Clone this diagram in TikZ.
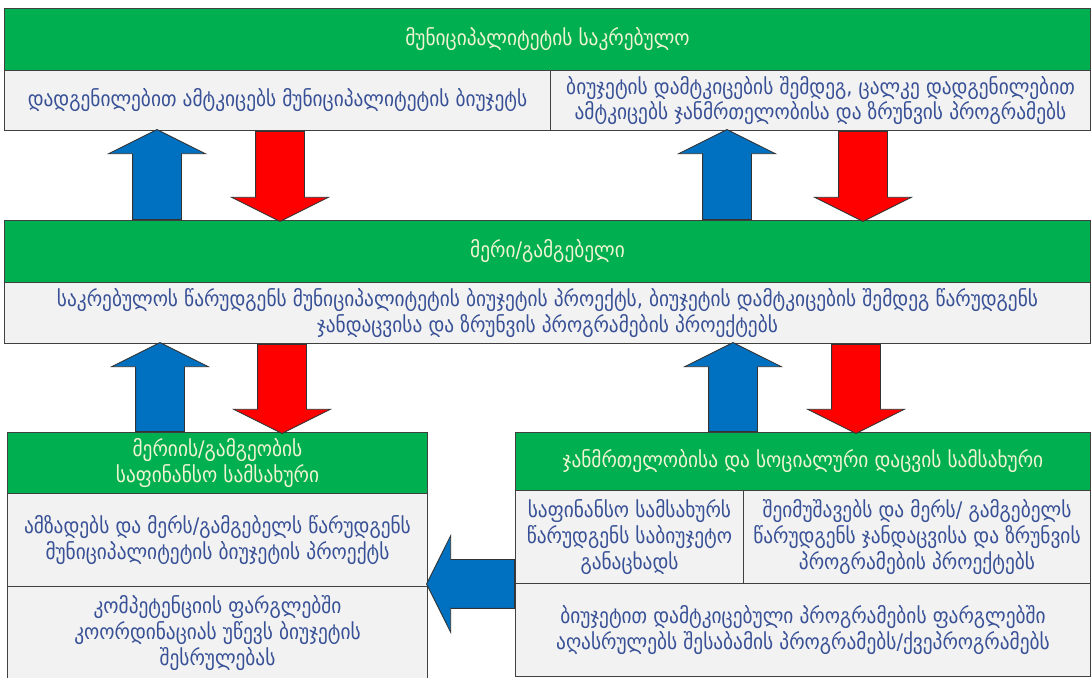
\documentclass[tikz,border=0pt]{standalone}
\usepackage{fontspec}
\setmainfont{DejaVu Sans Condensed}
\usetikzlibrary{shapes.arrows}
\newcommand{\pxu}{0.025cm}
\definecolor{boxgreen}{RGB}{0,176,80}
\definecolor{arrblue}{RGB}{0,112,192}
\definecolor{arrred}{RGB}{255,0,0}
\definecolor{boxgray}{RGB}{242,242,242}
\definecolor{bodytext}{RGB}{55,80,150}
\definecolor{headtext}{RGB}{240,244,210}
\begin{document}
\begin{tikzpicture}[x=0.025cm, y=-0.025cm,
    box/.style={draw=black!75, line width=0.7pt, anchor=north west, inner sep=0pt,
        align=center, font=\fontsize{15.3}{18.2}\selectfont},
    headbox/.style={box, fill=boxgreen, text=headtext},
    textbox/.style={box, fill=boxgray, text=bodytext},
    fatarrow/.style={single arrow, draw=black!80, line width=0.6pt, inner xsep=0pt,
        inner ysep=24*\pxu, single arrow head extend=24*\pxu,
        single arrow tip angle=127, anchor=tail},
    uparrow/.style={fatarrow, fill=arrblue, rotate=90},
    downarrow/.style={fatarrow, fill=arrred, rotate=-90}]
    \useasboundingbox (0,0) rectangle (1091,677);

    % council
    \node[headbox, minimum width=1086*\pxu, minimum height=62*\pxu] (council) at (4,8)
        {მუნიციპალიტეტის საკრებულო};
    \node[textbox, minimum width=546*\pxu, minimum height=60*\pxu] (councilL) at (4,70)
        {დადგენილებით ამტკიცებს მუნიციპალიტეტის ბიუჯეტს};
    \node[textbox, minimum width=540*\pxu, minimum height=60*\pxu] (councilR) at (550,70)
        {ბიუჯეტის დამტკიცების შემდეგ, ცალკე დადგენილებით\\
         ამტკიცებს ჯანმრთელობისა და ზრუნვის პროგრამებს};

    % mayor
    \node[headbox, minimum width=1086*\pxu, minimum height=62*\pxu] (mayor) at (4,220)
        {მერი/გამგებელი};
    \node[textbox, minimum width=1086*\pxu, minimum height=61*\pxu] (mayorT) at (4,282)
        {საკრებულოს წარუდგენს მუნიციპალიტეტის ბიუჯეტის პროექტს, ბიუჯეტის დამტკიცების შემდეგ წარუდგენს\\
         ჯანდაცვისა და ზრუნვის პროგრამების პროექტებს};

    % finance service
    \node[headbox, minimum width=420*\pxu, minimum height=61*\pxu] (fin) at (7,432)
        {მერიის/გამგეობის\\საფინანსო სამსახური};
    \node[textbox, minimum width=420*\pxu, minimum height=93*\pxu] (finA) at (7,493)
        {ამზადებს და მერს/გამგებელს წარუდგენს\\
         მუნიციპალიტეტის ბიუჯეტის პროექტს};
    \node[textbox, minimum width=420*\pxu, minimum height=93*\pxu] (finB) at (7,586)
        {კომპეტენციის ფარგლებში\\
         კოორდინაციას უწევს ბიუჯეტის\\
         შესრულებას};

    % health service
    \node[headbox, minimum width=575*\pxu, minimum height=58*\pxu] (health) at (515,432)
        {ჯანმრთელობისა და სოციალური დაცვის სამსახური};
    \node[textbox, minimum width=228*\pxu, minimum height=93*\pxu] (healthA) at (515,490)
        {საფინანსო სამსახურს\\
         წარუდგენს საბიუჯეტო\\
         განაცხადს};
    \node[textbox, minimum width=347*\pxu, minimum height=93*\pxu] (healthB) at (743,490)
        {შეიმუშავებს და მერს/ გამგებელს\\
         წარუდგენს ჯანდაცვისა და ზრუნვის\\
         პროგრამების პროექტებს};
    \node[textbox, minimum width=575*\pxu, minimum height=93*\pxu] (healthC) at (515,583)
        {ბიუჯეტით დამტკიცებული პროგრამების ფარგლებში\\
         აღასრულებს შესაბამის პროგრამებს/ქვეპროგრამებს};

    % arrow columns
    \coordinate (colA) at (157,0);
    \coordinate (colB) at (280,0);
    \coordinate (colC) at (727,0);
    \coordinate (colD) at (863,0);
    \coordinate (colE) at (160,0);
    \coordinate (colF) at (282,0);
    \coordinate (colG) at (733,0);
    \coordinate (colH) at (856,0);

    % council <-> mayor
    \node[uparrow, minimum height=90*\pxu] (upA) at (colA |- mayor.north) {};
    \node[downarrow, minimum height=90*\pxu] (downB) at (colB |- councilL.south) {};
    \node[uparrow, minimum height=90*\pxu] (upC) at (colC |- mayor.north) {};
    \node[downarrow, minimum height=90*\pxu] (downD) at (colD |- councilR.south) {};

    % mayor <-> services
    \node[uparrow, minimum height=89*\pxu] (upE) at (colE |- fin.north) {};
    \node[downarrow, minimum height=89*\pxu] (downF) at (colF |- mayorT.south) {};
    \node[uparrow, minimum height=89*\pxu] (upG) at (colG |- health.north) {};
    \node[downarrow, minimum height=89*\pxu] (downH) at (colH |- mayorT.south) {};

    % health -> finance
    \node[fatarrow, fill=arrblue, rotate=180, minimum height=88*\pxu] (leftI)
        at (healthA.south west) {};
\end{tikzpicture}
\end{document}
